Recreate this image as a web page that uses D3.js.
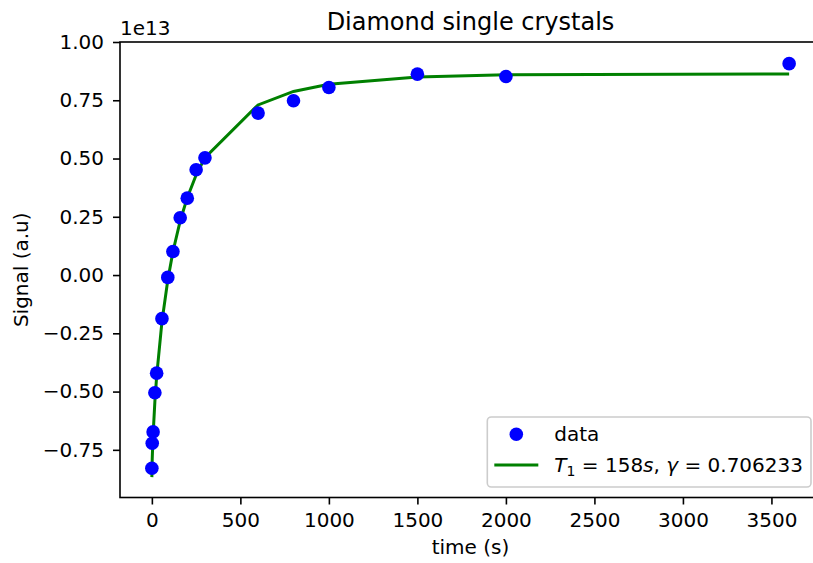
<!DOCTYPE html>
<head>
<meta charset="utf-8">
<title>Diamond single crystals</title>
<style>
body { margin: 0; background: #fff; }
text { font-family: "DejaVu Sans", sans-serif; fill: #000; }
.axis path, .axis line { stroke: #000; stroke-width: 1.6px; }
.axis text { font-size: 20px; }
</style>
<script src="https://cdn.jsdelivr.net/npm/d3@7"></script>
</head>
<body>
<script>
"use strict";
// measurement times (s) and signal in units of 1e13
var times = [0, 2, 7, 17, 27, 57, 90, 119, 160, 200, 250, 300, 600, 800, 1000, 1500, 2000, 3600];
var signal = [-0.829, -0.722, -0.673, -0.505, -0.421, -0.187, -0.010, 0.101, 0.246, 0.330,
              0.452, 0.503, 0.695, 0.748, 0.805, 0.862, 0.852, 0.907];
// fitted stretched exponential evaluated at the same times
var fitted = [-0.867, -0.789, -0.685, -0.543, -0.435, -0.200, -0.021, 0.100, 0.232, 0.332,
              0.429, 0.504, 0.730, 0.788, 0.819, 0.850, 0.859, 0.863];
var xTicks = [0, 500, 1000, 1500, 2000, 2500, 3000, 3500];
var yTicks = [-0.75, -0.50, -0.25, 0.00, 0.25, 0.50, 0.75, 1.00];

var W = 813, H = 563;
var ax = {left: 120, right: 821, top: 42, bottom: 497.5};

var x = d3.scaleLinear().domain([-180, 3780]).range([ax.left, ax.right]);
var y = d3.scaleLinear().domain([-0.9545, 1.0]).range([ax.bottom, ax.top]);

var svg = d3.select("body").append("svg")
    .attr("width", W)
    .attr("height", H);

var pts = times.map(function(t, i) { return {t: t, s: signal[i], f: fitted[i]}; });

// axes frame (right spine falls outside the picture)
svg.append("rect")
    .attr("x", ax.left).attr("y", ax.top)
    .attr("width", ax.right - ax.left).attr("height", ax.bottom - ax.top)
    .attr("fill", "none").attr("stroke", "#000").attr("stroke-width", 1.6);

svg.append("g")
    .attr("class", "x axis")
    .attr("transform", "translate(0," + ax.bottom + ")")
    .call(d3.axisBottom(x).tickValues(xTicks).tickSize(7).tickPadding(8).tickFormat(d3.format("d")))
    .call(function(g) { g.select(".domain").remove(); });

svg.append("g")
    .attr("class", "y axis")
    .attr("transform", "translate(" + ax.left + ",0)")
    .call(d3.axisLeft(y).tickValues(yTicks).tickSize(7).tickPadding(9).tickFormat(d3.format(".2f")))
    .call(function(g) { g.select(".domain").remove(); });

var line = d3.line()
    .x(function(d) { return x(d.t); })
    .y(function(d) { return y(d.f); });

svg.append("path")
    .datum(pts)
    .attr("d", line)
    .attr("fill", "none")
    .attr("stroke", "#008000")
    .attr("stroke-width", 3);

svg.selectAll(".dot")
    .data(pts)
  .enter().append("circle")
    .attr("class", "dot")
    .attr("cx", function(d) { return x(d.t); })
    .attr("cy", function(d) { return y(d.s); })
    .attr("r", 6.8)
    .attr("fill", "#0000ff");

// title, labels, offset text
svg.append("text")
    .attr("x", (ax.left + ax.right) / 2).attr("y", 30)
    .attr("text-anchor", "middle")
    .style("font-size", "24px")
    .text("Diamond single crystals");

svg.append("text")
    .attr("x", (ax.left + ax.right) / 2).attr("y", 554)
    .attr("text-anchor", "middle")
    .style("font-size", "20px")
    .text("time (s)");

svg.append("text")
    .attr("transform", "translate(28," + (ax.top + ax.bottom) / 2 + ") rotate(-90)")
    .attr("text-anchor", "middle")
    .style("font-size", "20px")
    .text("Signal (a.u)");

svg.append("text")
    .attr("x", ax.left).attr("y", 35)
    .style("font-size", "20px")
    .text("1e13");

// legend, lower right
var lg = svg.append("g");
var box = lg.append("rect")
    .attr("fill", "#fff").attr("fill-opacity", 0.8)
    .attr("stroke", "#cccccc").attr("stroke-width", 1.6)
    .attr("rx", 4).attr("ry", 4);

var t1 = lg.append("text")
    .attr("y", 441)
    .style("font-size", "20px")
    .text("data");

var t2 = lg.append("text")
    .attr("y", 472)
    .style("font-size", "20px")
    .style("white-space", "pre");
t2.append("tspan").style("font-style", "italic").text("T");
t2.append("tspan").attr("dy", 4).style("font-size", "14px").text("1");
t2.append("tspan").attr("dy", -4).text(" = 158");
t2.append("tspan").style("font-style", "italic").text("s");
t2.append("tspan").text(", ");
t2.append("tspan").style("font-style", "italic").text("\u03b3");
t2.append("tspan").text(" = 0.706233");

var textW = Math.max(t1.node().getComputedTextLength(), t2.node().getComputedTextLength());
var boxR = ax.right - 10, textX = boxR - 8 - textW, handleX = textX - 16 - 44;
t1.attr("x", textX);
t2.attr("x", textX);
box.attr("x", handleX - 7).attr("y", 417)
    .attr("width", boxR - handleX + 7).attr("height", 70);

lg.append("circle")
    .attr("cx", handleX + 22).attr("cy", 434.3).attr("r", 6.8)
    .attr("fill", "#0000ff");
lg.append("line")
    .attr("x1", handleX).attr("x2", handleX + 44)
    .attr("y1", 465).attr("y2", 465)
    .attr("stroke", "#008000").attr("stroke-width", 3);
</script>
</body>
